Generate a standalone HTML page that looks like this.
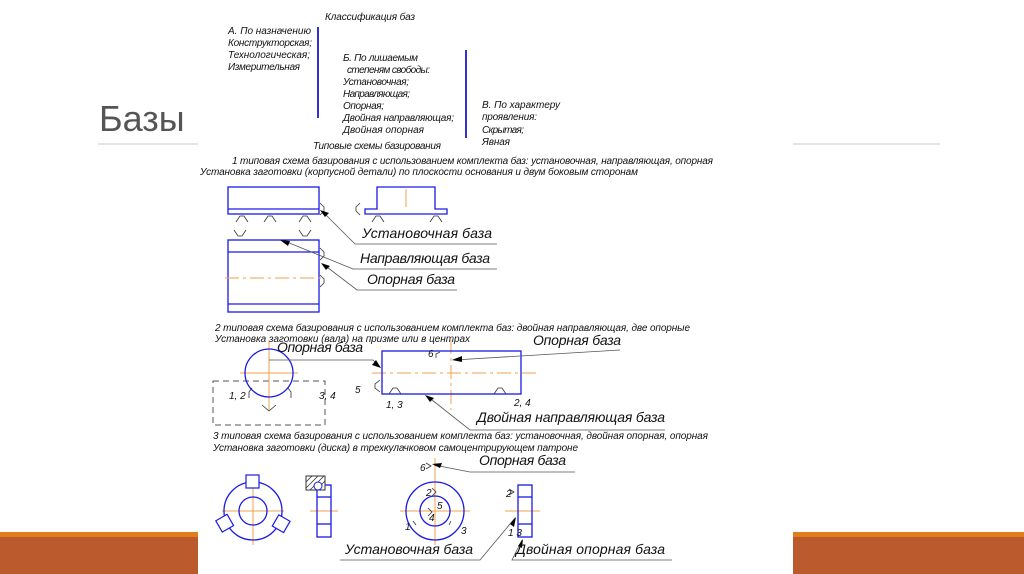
<!DOCTYPE html>
<html><head><meta charset="utf-8"><style>
html,body{margin:0;padding:0;background:#fff;}
svg{display:block;}
.t{font-family:"Liberation Sans",sans-serif;font-style:italic;fill:#111;}
</style></head><body>
<svg width="1024" height="574" viewBox="0 0 1024 574" xmlns="http://www.w3.org/2000/svg">
<rect x="0" y="0" width="1024" height="574" fill="#fff"/>
<rect x="0" y="532" width="1024" height="42" fill="#bb5a2c"/>
<rect x="0" y="532" width="1024" height="5" fill="#e07e1c"/>
<text x="99" y="131" font-family="Liberation Sans,sans-serif" font-size="36" fill="#555">Базы</text>
<line x1="98" y1="144" x2="940" y2="144" stroke="#c8c8c8" stroke-width="1"/>
<rect x="198" y="0" width="595" height="574" fill="#fff"/>

<g class="t" font-size="10">
<text x="325" y="20" textLength="90">Классификация баз</text>
<text x="228" y="34" textLength="83">А. По назначению</text>
<text x="228" y="46" textLength="84">Конструкторская;</text>
<text x="228" y="58" textLength="82">Технологическая;</text>
<text x="228" y="70" textLength="72">Измерительная</text>
<text x="343" y="61" textLength="75">Б. По лишаемым</text>
<text x="347" y="73" textLength="83">степеням свободы:</text>
<text x="343" y="85" textLength="66">Установочная;</text>
<text x="343" y="97" textLength="67">Направляющая;</text>
<text x="343" y="109" textLength="41">Опорная;</text>
<text x="343" y="121" textLength="111">Двойная направляющая;</text>
<text x="343" y="133" textLength="81">Двойная опорная</text>
<text x="482" y="108" textLength="78">В. По характеру</text>
<text x="482" y="120" textLength="55">проявления:</text>
<text x="482" y="133" textLength="42">Скрытая;</text>
<text x="482" y="145" textLength="28">Явная</text>
<text x="313" y="149" textLength="128">Типовые схемы базирования</text>
<text x="232" y="164" textLength="481">1 типовая схема базирования с использованием комплекта баз: установочная, направляющая, опорная</text>
<text x="200" y="175" textLength="438">Установка заготовки (корпусной детали) по плоскости основания и двум боковым сторонам</text>
<text x="215" y="331" textLength="475">2 типовая схема базирования с использованием комплекта баз: двойная направляющая, две опорные</text>
<text x="215" y="342" textLength="255">Установка заготовки (вала) на призме или в центрах</text>
<text x="213" y="439" textLength="495">3 типовая схема базирования с использованием комплекта баз: установочная, двойная опорная, опорная</text>
<text x="213" y="451" textLength="365">Установка заготовки (диска) в трехкулачковом самоцентрирующем патроне</text>
</g>
<line x1="318" y1="27" x2="318" y2="118" stroke="#3333cc" stroke-width="2"/>
<line x1="466" y1="50" x2="466" y2="138" stroke="#3333cc" stroke-width="2"/>

<g fill="none" stroke="#1a1ae6" stroke-width="1.3">
<rect x="228" y="187" width="91" height="27"/>
<line x1="228" y1="209" x2="319" y2="209"/>
<path d="M365 209 H377 V187 H435 V209 H447 V214 H365 Z"/>
<rect x="228" y="240" width="91" height="72"/>
<line x1="228" y1="252" x2="319" y2="252"/>
<line x1="228" y1="304" x2="319" y2="304"/>
</g>
<g stroke="#f0a050" stroke-width="1" fill="none">
<line x1="406" y1="189" x2="406" y2="207"/>
<line x1="225" y1="278" x2="322" y2="278" stroke-dasharray="14,4,3,4"/>
</g>
<g fill="none" stroke="#333" stroke-width="0.8">
<path d="M236 222 l4 -6 h4 l4 6 M264 222 l4 -6 h4 l4 6 M299 222 l4 -6 h4 l4 6 M372 222 l4 -6 h4 l4 6 M430 222 l4 -6 h4 l4 6"/>
<path d="M234 230 l4 6 h4 l4 -6 M299 230 l4 6 h4 l4 -6"/>
<path d="M320 203 l4 4 v4 l-4 4 M320 248 l4 4 v4 l-4 4 M320 275 l4 4 v4 l-4 4 M360 203 l-4 4 v4 l4 4"/>
</g>
<g stroke="#555" stroke-width="0.8" fill="none">
<polyline points="322,211 355,244 497,244"/>
<polyline points="282,240 353,269 497,269"/>
<polyline points="323,264 357,290 457,290"/>
</g>
<g fill="#000">
<polygon points="320,210 329,213 325,217"/>
<polygon points="280,240 290,241 288,246"/>
<polygon points="321,263 330,266 326,270"/>
</g>
<g class="t" font-size="14">
<text x="362" y="238" textLength="130">Установочная база</text>
<text x="360" y="263" textLength="130">Направляющая база</text>
<text x="367" y="284" textLength="88">Опорная база</text>
</g>

<rect x="213" y="381" width="112" height="44" fill="none" stroke="#555" stroke-width="1" stroke-dasharray="6,4"/>
<g stroke="#f0a050" stroke-width="1" fill="none">
<line x1="240" y1="373" x2="298" y2="373"/>
<line x1="269" y1="340" x2="269" y2="410"/>
<line x1="372" y1="373" x2="538" y2="373" stroke-dasharray="14,4,3,4"/>
<line x1="451" y1="340" x2="451" y2="410" stroke-dasharray="14,4,3,4"/>
</g>
<circle cx="269" cy="373" r="24" fill="none" stroke="#1a1ae6" stroke-width="1.3"/>
<rect x="382" y="351" width="139" height="43" fill="none" stroke="#1a1ae6" stroke-width="1.3"/>
<g fill="none" stroke="#333" stroke-width="0.8">
<path d="M389 394 l4 -6 h4 l4 6 M494 394 l4 -6 h4 l4 6"/>
<path d="M380 380 l-5 4 v4 l5 4 M440 352 l-4 2 v4"/>
<path d="M252 388 l-3 4 v6 M288 388 l3 4 v6 M262 405 l7 6 l7 -6"/>
</g>
<g stroke="#555" stroke-width="0.8" fill="none">
<polyline points="269,360 373,360 380,367"/>
<line x1="620" y1="350" x2="454" y2="360"/>
<polyline points="427,396 470,430 665,430"/>
</g>
<g fill="#000">
<polygon points="381,368 372,365 376,360"/>
<polygon points="452,360 462,356 462,362"/>
<polygon points="425,395 434,398 430,402"/>
</g>
<g class="t" font-size="10">
<text x="428" y="357">6</text>
<text x="355" y="393">5</text>
<text x="386" y="408">1, 3</text>
<text x="514" y="406">2, 4</text>
<text x="229" y="399">1, 2</text>
<text x="319" y="399">3, 4</text>
</g>
<g class="t" font-size="14">
<text x="277" y="352" textLength="86">Опорная база</text>
<text x="533" y="345" textLength="88">Опорная база</text>
<text x="477" y="422" textLength="188">Двойная направляющая база</text>
</g>

<g stroke="#f0a050" stroke-width="1" fill="none">
<line x1="222" y1="511" x2="284" y2="511"/>
<line x1="253" y1="475" x2="253" y2="545"/>
<line x1="310" y1="511" x2="338" y2="511"/>
<line x1="400" y1="511" x2="470" y2="511"/>
<line x1="435" y1="458" x2="435" y2="545"/>
<line x1="505" y1="511" x2="540" y2="511"/>
</g>
<g fill="none" stroke="#1a1ae6" stroke-width="1.3">
<circle cx="253" cy="511" r="29"/>
<circle cx="253" cy="511" r="14"/>
<rect x="317" y="485" width="14" height="52"/>
<line x1="317" y1="497" x2="331" y2="497"/>
<line x1="317" y1="524" x2="331" y2="524"/>
<circle cx="435" cy="511" r="29"/>
<circle cx="435" cy="511" r="15"/>
<rect x="518" y="485" width="14" height="52"/>
<line x1="518" y1="497" x2="532" y2="497"/>
<line x1="518" y1="524" x2="532" y2="524"/>
</g>
<g fill="none" stroke="#1a1ae6" stroke-width="1.2">
<rect x="246" y="475" width="13" height="13" fill="#fff"/>
<rect x="218" y="517" width="13" height="13" transform="rotate(-30 224 523)" fill="#fff"/>
<rect x="275" y="517" width="13" height="13" transform="rotate(30 281 523)" fill="#fff"/>
</g>
<rect x="306" y="476" width="19" height="14" fill="#fff" stroke="#333" stroke-width="1"/>
<path d="M306 482 l6 -6 M306 488 l12 -12 M310 490 l14 -14 M316 490 l9 -9" stroke="#333" stroke-width="0.8"/>
<circle cx="318" cy="486" r="4" fill="#fff" stroke="#1a1ae6" stroke-width="1"/>
<g fill="none" stroke="#333" stroke-width="0.8">
<path d="M426 463 l5 3 l-5 3 M432 488 l4 4 l-4 4 M428 508 l4 4 l-4 4 M413 521 l3 4 M451 521 l-2 4 M509 489 l5 3 l-5 3"/>
</g>
<g stroke="#555" stroke-width="0.8" fill="none">
<polyline points="434,465 470,472 575,472"/>
<polyline points="340,560 480,560 515,518"/>
<polyline points="672,560 512,560 522,540"/>
</g>
<g fill="#000">
<polygon points="432,464 442,463 440,468"/>
<polygon points="516,517 514,527 510,524"/>
<polygon points="523,539 522,548 518,546"/>
</g>
<g class="t" font-size="10">
<text x="420" y="471">6</text>
<text x="426" y="496">2</text>
<text x="437" y="509">5</text>
<text x="429" y="521">4</text>
<text x="405" y="530">1</text>
<text x="461" y="534">3</text>
<text x="506" y="497">2</text>
<text x="508" y="536">1 3</text>
</g>
<g class="t" font-size="14">
<text x="479" y="465" textLength="87">Опорная база</text>
<text x="345" y="554" textLength="128">Установочная база</text>
<text x="516" y="554" textLength="149">Двойная опорная база</text>
</g>
</svg>
</body></html>
